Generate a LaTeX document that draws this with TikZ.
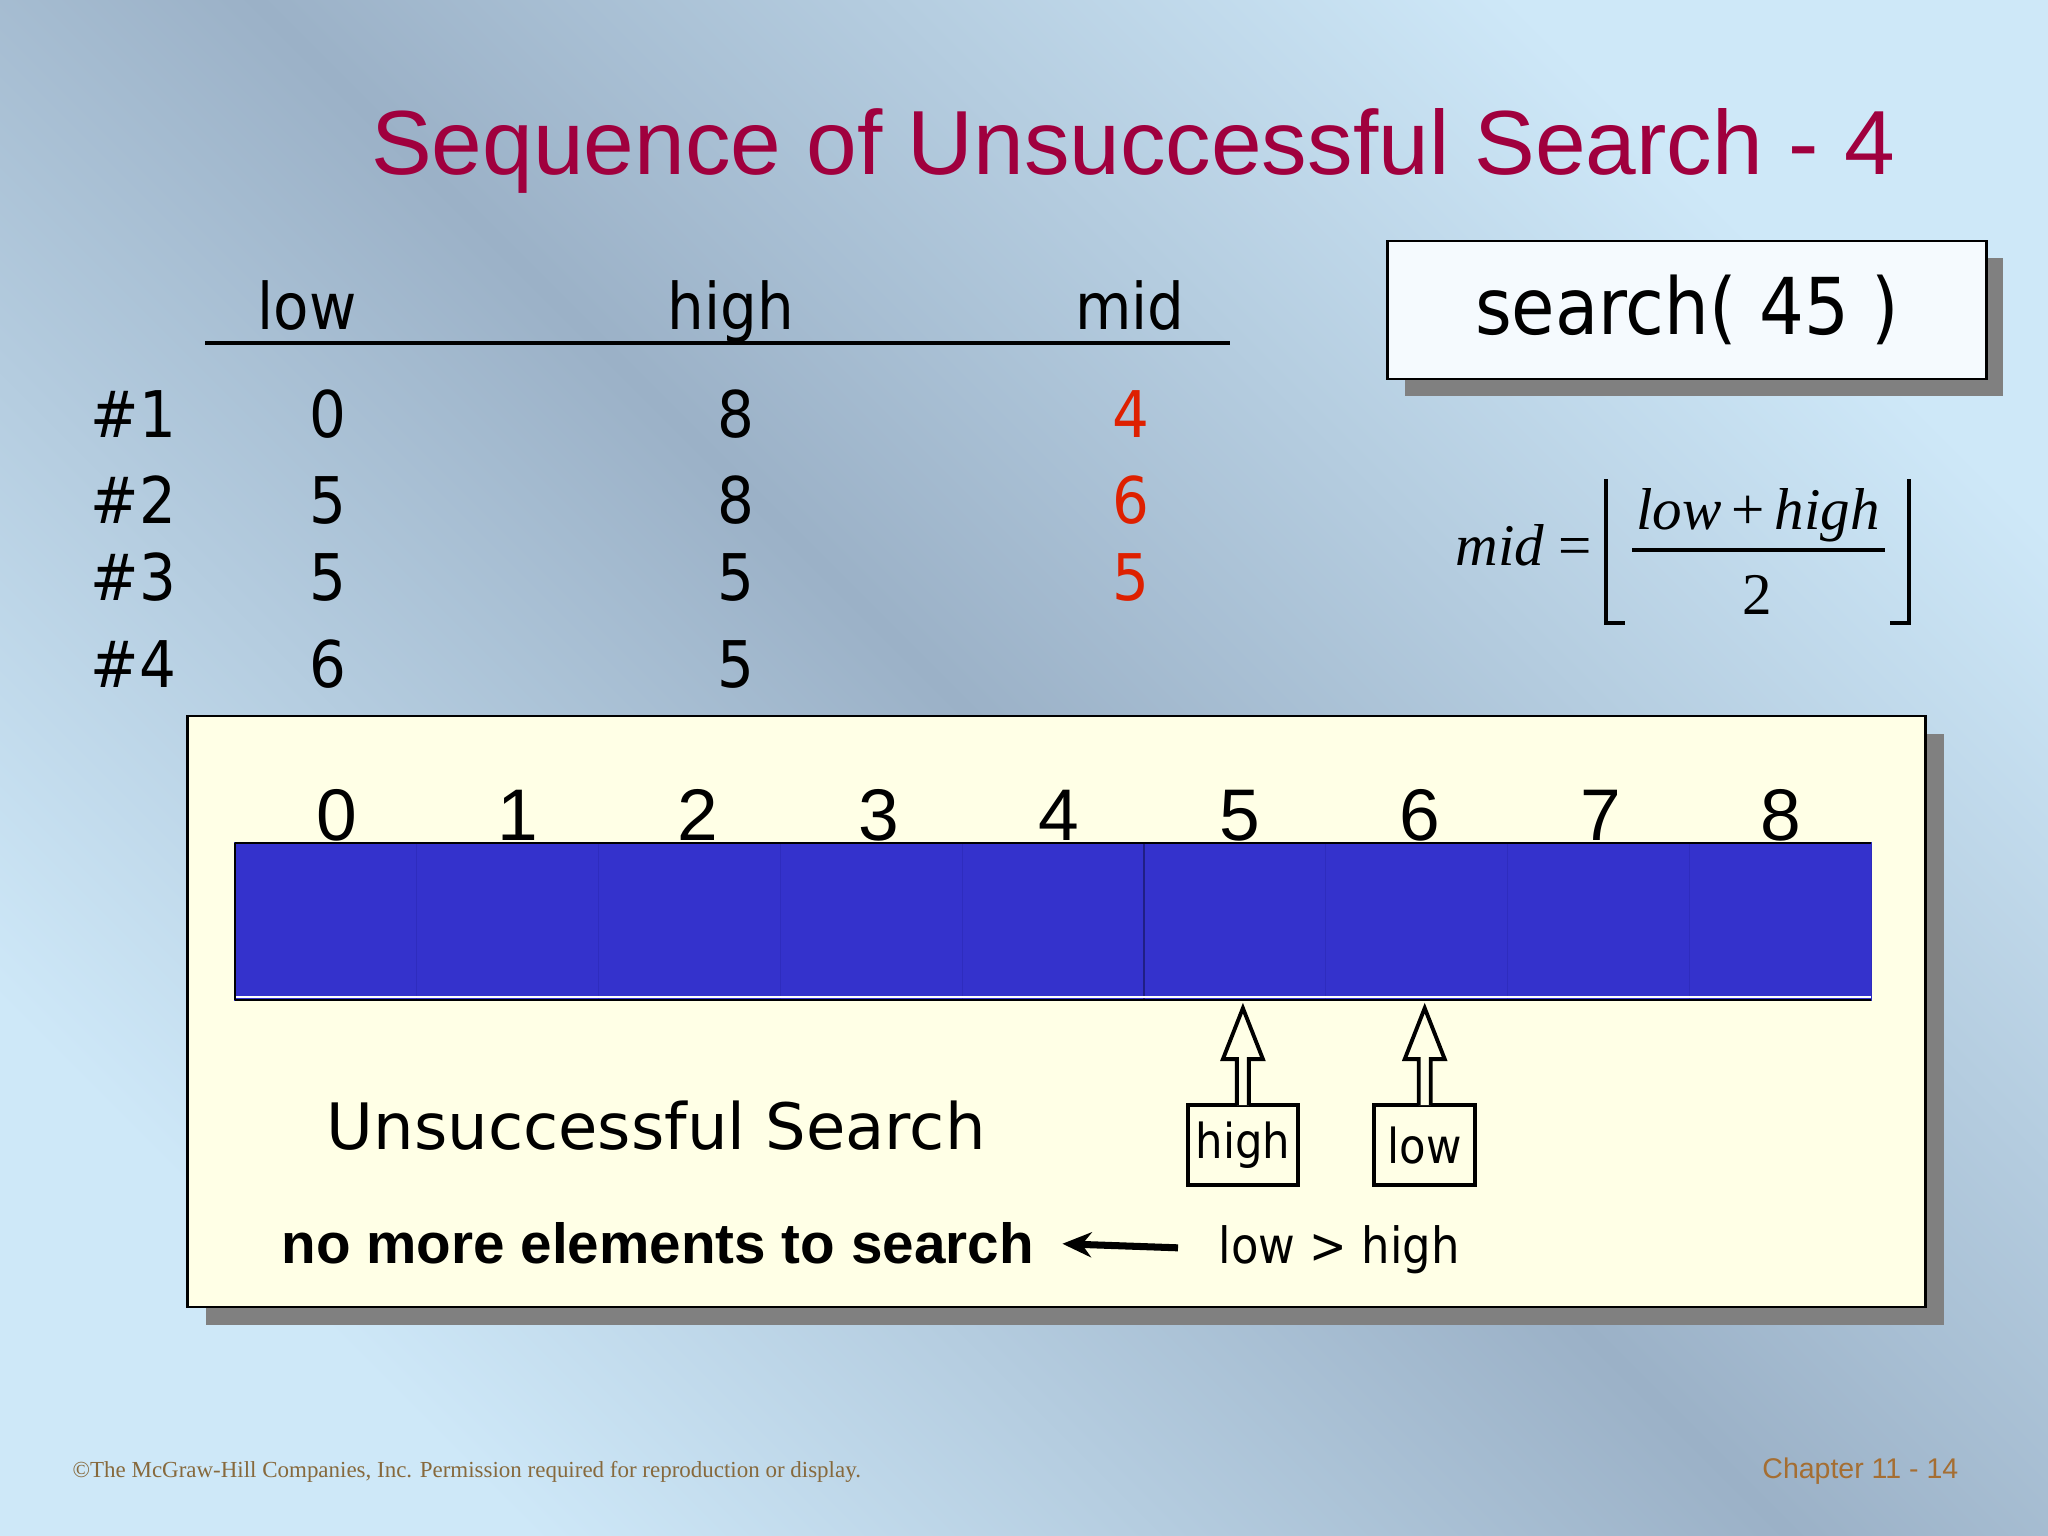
\documentclass[tikz,border=0pt]{standalone}
\usepackage{fontspec}
\usetikzlibrary{positioning,calc,shadows,arrows.meta}
\newfontfamily\arialf{Liberation Sans}
\newfontfamily\tahomaf{DejaVu Sans Condensed}
\newfontfamily\sansf{DejaVu Sans}
\newfontfamily\timesf{Liberation Serif}
\definecolor{SlideLight}{RGB}{206,232,248}
\definecolor{SlideDark}{RGB}{155,177,199}
\definecolor{TitleRed}{RGB}{160,0,62}
\definecolor{MidRed}{RGB}{222,32,0}
\definecolor{PanelYellow}{RGB}{255,255,230}
\definecolor{CellBlue}{RGB}{52,50,204}
\definecolor{CellLine}{RGB}{46,44,190}
\definecolor{ShadowGray}{RGB}{128,128,128}
\definecolor{CallWhite}{RGB}{245,250,254}
\definecolor{FootBrown}{RGB}{135,105,60}
\definecolor{ChapBrown}{RGB}{165,110,50}
\tikzset{
  tabtext/.style={font=\tahomaf\fontsize{18.3}{21}\selectfont,inner sep=0,anchor=base},
  cell/.style={fill=CellBlue,draw=CellLine,line width=.3pt,minimum width=1.818cm,minimum height=1.57cm,inner sep=0,outer sep=0},
  idx/.style={font=\arialf\fontsize{20.8}{24}\selectfont,inner sep=0,anchor=base},
  ptrbox/.style={draw,line width=1.1pt,fill=PanelYellow,minimum width=1.01cm,minimum height=.8cm,inner xsep=.08cm,inner ysep=0,font=\tahomaf\fontsize{13.7}{16}\selectfont},
  ptrarrow/.style={draw,line width=1.1pt,fill=PanelYellow,line join=miter},
  eqn/.style={font=\timesf\fontsize{16.8}{20}\selectfont,inner sep=0}
}
\begin{document}
\begin{tikzpicture}[x=.01cm,y=-.01cm,>=stealth]
  \useasboundingbox (0,0) rectangle (2048,1536);
  \shade[top color=SlideLight,bottom color=SlideLight,middle color=SlideDark,shading angle=-45] (0,0) rectangle (2048,1536);
  \node[font=\arialf\fontsize{25.9}{30}\selectfont,text=TitleRed,anchor=base,inner sep=0] (title) at (1133,174) {Sequence of Unsuccessful Search - 4};

  \node[tabtext] (hlow) at (307,329) {low};
  \node[tabtext] (hhigh) at (731,329) {high};
  \node[tabtext] (hmid) at (1130,329) {mid};
  \draw[line width=1.2pt] (205,343) -- (1230,343);
  \foreach \r/\lo/\hi/\y in {1/0/8/437,2/5/8/523,3/5/5/600,4/6/5/687} {
    \node[tabtext,anchor=base west] (row\r) at (90,\y) {\#\r};
    \node[tabtext] (lo\r) at (328,\y) {\lo};
    \node[tabtext] (hi\r) at (736,\y) {\hi};
  }
  \foreach \r/\md/\y in {1/4/437,2/6/523,3/5/600}
    \node[tabtext,text=MidRed] (md\r) at (1131,\y) {\md};

  \node[draw,line width=.8pt,fill=CallWhite,minimum width=5.98cm,minimum height=1.38cm,font=\tahomaf\fontsize{22.3}{26}\selectfont,drop shadow={shadow xshift=.17cm,shadow yshift=-.17cm,fill=ShadowGray,opacity=1}] (call) at (1687,310) {search( 45 )};

  \node[eqn,anchor=base east] (lhs) at (1593,565) {\itshape mid\/ \upshape=};
  \node[eqn,anchor=base] (num) at (1758,529) {{\itshape low}\,+\,{\itshape high}};
  \node[eqn,anchor=base] (den) at (1757,614) {2};
  \draw[line width=.9pt] (1632,550) -- (1885,550);
  \draw[line width=.9pt] (1606,479) |- (1625,623);
  \draw[line width=.9pt] (1909,479) |- (1890,623);

  \node[fill=PanelYellow,draw=black,line width=.6pt,minimum width=17.37cm,minimum height=5.91cm,drop shadow={shadow xshift=.18cm,shadow yshift=-.18cm,fill=ShadowGray,opacity=1}] (board) at (1056.5,1011.5) {};

  \foreach \i in {0,...,8} {
    \node[cell] (c\i) at ({325.9+181.8*\i},921.5) {};
    \node[idx] (n\i) at ($(c\i.north)+({11-1.3*\i},-2)$) {\i};
  }
  \draw[CellLine!70!black,line width=.4pt] (c5.north west) -- (c5.south west);
  \draw[white,line width=.5pt] ($(c0.south west)+(0,-3)$) -- ($(c8.south east)+(0,-3)$);
  \draw[line width=.8pt] (c0.north west) -- (c8.north east);
  \draw[line width=.8pt] (c0.south west) -- (c8.south east);
  \draw[line width=.8pt] (c0.north west) -- (c0.south west);

  \node[ptrbox,below=1.03cm of c5,xshift=.08cm,minimum width=1.09cm] (hb) {high};
  \node[ptrbox,below=1.03cm of c6,xshift=.08cm] (lb) {low};
  \foreach \b in {hb,lb}
    \draw[ptrarrow] ($(\b.north)+(-6,2)$) -- ++(0,-46) -- ++(-14,0) -- ++(20,-51) -- ++(20,51) -- ++(-14,0) -- ++(0,46);

  \node[font=\sansf\fontsize{18.2}{21}\selectfont,anchor=base west,inner sep=0] (fail) at (326,1149) {Unsuccessful Search};
  \node[font=\arialf\bfseries\fontsize{16.1}{19}\selectfont,anchor=base west,inner sep=0] (nomore) at (281,1263) {no more elements to search};
  \node[font=\tahomaf\fontsize{14.2}{17}\selectfont,anchor=base west,inner sep=0] (cond) at (1218,1263) {low > high};
  \draw[-{Stealth[length=.29cm,width=.25cm]},line width=2pt,shorten <=.4cm,shorten >=.28cm] (cond.west) -- (nomore.east);

  \node[font=\timesf\fontsize{6.53}{8}\selectfont,text=FootBrown,anchor=base west,inner sep=0] (copy) at (72,1477) {©The McGraw-Hill Companies, Inc. Permission required for reproduction or display.};
  \node[font=\arialf\fontsize{8.1}{10}\selectfont,text=ChapBrown,anchor=base east,inner sep=0] (chap) at (1959,1478) {Chapter 11 - 14};
\end{tikzpicture}
\end{document}
